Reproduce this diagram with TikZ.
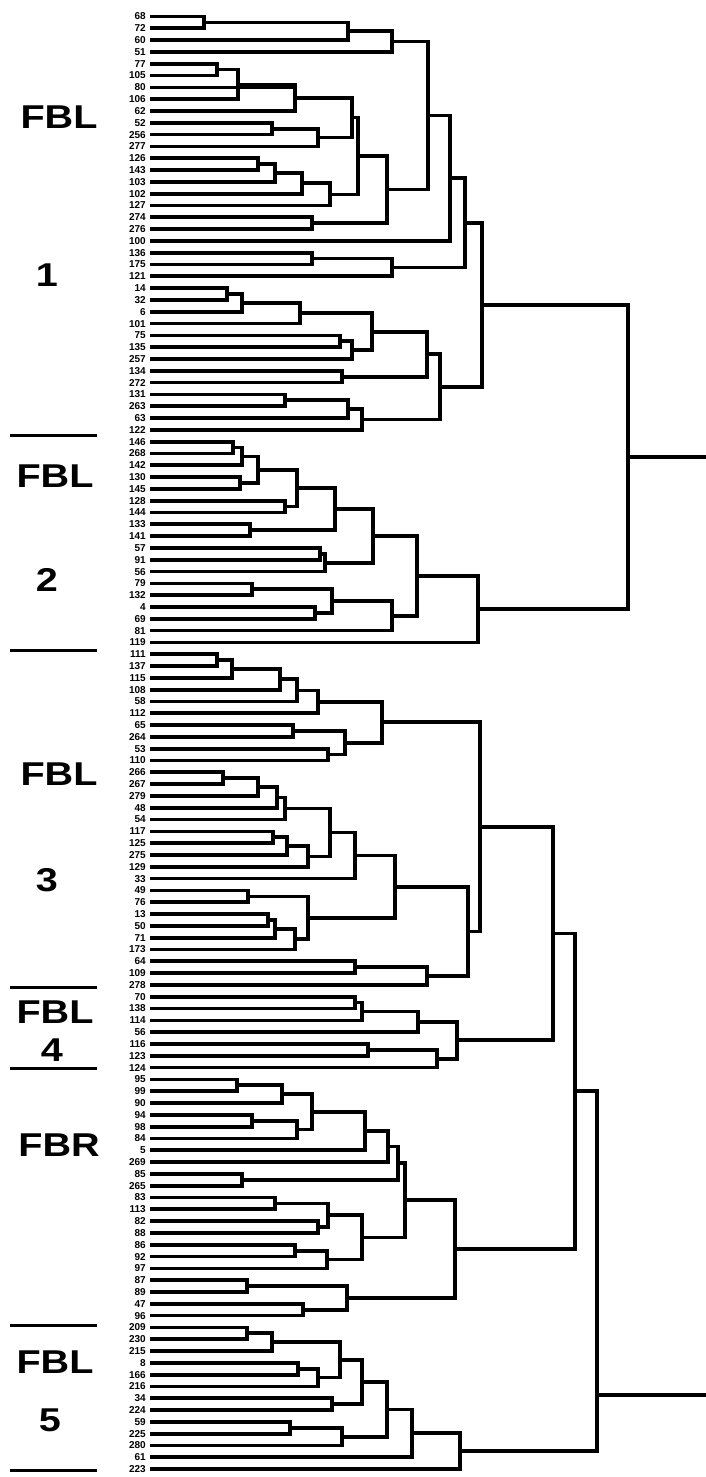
\documentclass[tikz,border=0pt]{standalone}
\usepackage{fontspec}
\setmainfont{Liberation Sans}
\usetikzlibrary{calc}
\begin{document}
\begin{tikzpicture}[x=1pt,y=-1pt,
  br/.style={line width=3.7pt,line join=miter,line cap=butt},
  lab/.style={font=\bfseries\fontsize{10}{10}\selectfont,inner sep=0pt,anchor=east},
  big/.style={font=\bfseries\fontsize{33}{33}\selectfont,inner sep=0pt,xscale=1.2},
  sep/.style={line width=3pt}]
\useasboundingbox (0,0) rectangle (706,1477);
\newcommand\dleaf[2]{%
  \coordinate (L#1) at (150,{16.5+11.81*(#1-1)});
  \node[lab] (T#1) at (146,{16.5+11.81*(#1-1)}) {#2};}
\newcommand\dmerge[4]{%
  \coordinate (#1m) at ($(#3)!0.5!(#4)$);
  \coordinate (#1x) at (#2,0);
  \coordinate (#1) at (#1m -| #1x);
  \draw[br] (#3) -- (#3 -| #1) -- (#4 -| #1) -- (#4);}
\coordinate (edge) at (706,0);
% leaves
\dleaf{1}{68}\dleaf{2}{72}\dleaf{3}{60}\dleaf{4}{51}\dleaf{5}{77}\dleaf{6}{105}
\dleaf{7}{80}\dleaf{8}{106}\dleaf{9}{62}\dleaf{10}{52}\dleaf{11}{256}\dleaf{12}{277}
\dleaf{13}{126}\dleaf{14}{143}\dleaf{15}{103}\dleaf{16}{102}\dleaf{17}{127}\dleaf{18}{274}
\dleaf{19}{276}\dleaf{20}{100}\dleaf{21}{136}\dleaf{22}{175}\dleaf{23}{121}\dleaf{24}{14}
\dleaf{25}{32}\dleaf{26}{6}\dleaf{27}{101}\dleaf{28}{75}\dleaf{29}{135}\dleaf{30}{257}
\dleaf{31}{134}\dleaf{32}{272}\dleaf{33}{131}\dleaf{34}{263}\dleaf{35}{63}\dleaf{36}{122}
\dleaf{37}{146}\dleaf{38}{268}\dleaf{39}{142}\dleaf{40}{130}\dleaf{41}{145}\dleaf{42}{128}
\dleaf{43}{144}\dleaf{44}{133}\dleaf{45}{141}\dleaf{46}{57}\dleaf{47}{91}\dleaf{48}{56}
\dleaf{49}{79}\dleaf{50}{132}\dleaf{51}{4}\dleaf{52}{69}\dleaf{53}{81}\dleaf{54}{119}
\dleaf{55}{111}\dleaf{56}{137}\dleaf{57}{115}\dleaf{58}{108}\dleaf{59}{58}\dleaf{60}{112}
\dleaf{61}{65}\dleaf{62}{264}\dleaf{63}{53}\dleaf{64}{110}\dleaf{65}{266}\dleaf{66}{267}
\dleaf{67}{279}\dleaf{68}{48}\dleaf{69}{54}\dleaf{70}{117}\dleaf{71}{125}\dleaf{72}{275}
\dleaf{73}{129}\dleaf{74}{33}\dleaf{75}{49}\dleaf{76}{76}\dleaf{77}{13}\dleaf{78}{50}
\dleaf{79}{71}\dleaf{80}{173}\dleaf{81}{64}\dleaf{82}{109}\dleaf{83}{278}\dleaf{84}{70}
\dleaf{85}{138}\dleaf{86}{114}\dleaf{87}{56}\dleaf{88}{116}\dleaf{89}{123}\dleaf{90}{124}
\dleaf{91}{95}\dleaf{92}{99}\dleaf{93}{90}\dleaf{94}{94}\dleaf{95}{98}\dleaf{96}{84}
\dleaf{97}{5}\dleaf{98}{269}\dleaf{99}{85}\dleaf{100}{265}\dleaf{101}{83}\dleaf{102}{113}
\dleaf{103}{82}\dleaf{104}{88}\dleaf{105}{86}\dleaf{106}{92}\dleaf{107}{97}\dleaf{108}{87}
\dleaf{109}{89}\dleaf{110}{47}\dleaf{111}{96}\dleaf{112}{209}\dleaf{113}{230}\dleaf{114}{215}
\dleaf{115}{8}\dleaf{116}{166}\dleaf{117}{216}\dleaf{118}{34}\dleaf{119}{224}\dleaf{120}{59}
\dleaf{121}{225}\dleaf{122}{280}\dleaf{123}{61}\dleaf{124}{223}
% FBL 1
\dmerge{a1}{204}{L1}{L2}
\dmerge{a2}{347.7}{a1}{L3}
\dmerge{a3}{391.7}{a2}{L4}
\dmerge{b1}{216.7}{L5}{L6}
\dmerge{b2}{238}{b1}{L8}
\dmerge{b3}{295}{b2}{L9}
\draw[br] (L7) -- (L7 -| b3);
\dmerge{b4}{271.7}{L10}{L11}
\dmerge{b5}{318.3}{b4}{L12}
\dmerge{b6}{351.7}{b3}{b5}
\dmerge{b7}{258.3}{L13}{L14}
\dmerge{b8}{275}{b7}{L15}
\dmerge{b9}{301.7}{b8}{L16}
\dmerge{b10}{330}{b9}{L17}
\dmerge{b11}{358.3}{b6}{b10}
\dmerge{b12}{311.7}{L18}{L19}
\dmerge{b13}{386.7}{b11}{b12}
\dmerge{a4}{428.3}{a3}{b13}
\dmerge{a5}{450}{a4}{L20}
\dmerge{c1}{311.7}{L21}{L22}
\dmerge{c2}{391.7}{c1}{L23}
\dmerge{a6}{465}{a5}{c2}
\dmerge{d1}{226.7}{L24}{L25}
\dmerge{d2}{241.7}{d1}{L26}
\dmerge{d3}{300}{d2}{L27}
\dmerge{d4}{340}{L28}{L29}
\dmerge{d5}{351.7}{d4}{L30}
\dmerge{d6}{371.7}{d3}{d5}
\dmerge{d7}{341.7}{L31}{L32}
\dmerge{d8}{426.7}{d6}{d7}
\dmerge{d9}{285}{L33}{L34}
\dmerge{d10}{348.3}{d9}{L35}
\dmerge{d11}{361.7}{d10}{L36}
\dmerge{d12}{440}{d8}{d11}
\dmerge{a7}{481.7}{a6}{d12}
% FBL 2
\dmerge{e1}{233.3}{L37}{L38}
\dmerge{e2}{241.7}{e1}{L39}
\dmerge{e3}{240}{L40}{L41}
\dmerge{e4}{258.3}{e2}{e3}
\dmerge{e5}{285}{L42}{L43}
\dmerge{e6}{296.7}{e4}{e5}
\dmerge{e7}{250}{L44}{L45}
\dmerge{e8}{335}{e6}{e7}
\dmerge{e9}{320}{L46}{L47}
\dmerge{e10}{325}{e9}{L48}
\dmerge{e11}{373.3}{e8}{e10}
\dmerge{e12}{251.7}{L49}{L50}
\dmerge{e13}{315}{L51}{L52}
\dmerge{e14}{331.7}{e12}{e13}
\dmerge{e15}{391.7}{e14}{L53}
\dmerge{e16}{416.7}{e11}{e15}
\dmerge{e17}{478.3}{e16}{L54}
\dmerge{r1}{628}{a7}{e17}
\coordinate (r1e) at (r1 -| edge);
\draw[br] (r1) -- (r1e);
% FBL 3
\dmerge{f1}{216.7}{L55}{L56}
\dmerge{f2}{231.7}{f1}{L57}
\dmerge{f3}{280}{f2}{L58}
\dmerge{f4}{296.7}{f3}{L59}
\dmerge{f5}{318.3}{f4}{L60}
\dmerge{f6}{293.3}{L61}{L62}
\dmerge{f7}{328.3}{L63}{L64}
\dmerge{f8}{345}{f6}{f7}
\dmerge{f9}{381.7}{f5}{f8}
\dmerge{g1}{223.3}{L65}{L66}
\dmerge{g2}{258.3}{g1}{L67}
\dmerge{g3}{276.7}{g2}{L68}
\dmerge{g4}{285}{g3}{L69}
\dmerge{g5}{273.3}{L70}{L71}
\dmerge{g6}{286.7}{g5}{L72}
\dmerge{g7}{308.3}{g6}{L73}
\dmerge{g8}{330}{g4}{g7}
\dmerge{g9}{355}{g8}{L74}
\dmerge{g10}{248.3}{L75}{L76}
\dmerge{g11}{268.3}{L77}{L78}
\dmerge{g12}{275}{g11}{L79}
\dmerge{g13}{295}{g12}{L80}
\dmerge{g14}{308.3}{g10}{g13}
\dmerge{g15}{395}{g9}{g14}
\dmerge{g16}{355}{L81}{L82}
\dmerge{g17}{426.7}{g16}{L83}
\dmerge{g18}{468.3}{g15}{g17}
\dmerge{g19}{480}{f9}{g18}
% FBL 4
\dmerge{h1}{355}{L84}{L85}
\dmerge{h2}{361.7}{h1}{L86}
\dmerge{h3}{418.3}{h2}{L87}
\dmerge{h4}{368.3}{L88}{L89}
\dmerge{h5}{436.7}{h4}{L90}
\dmerge{h6}{456.7}{h3}{h5}
% FBR
\dmerge{k1}{236.7}{L91}{L92}
\dmerge{k2}{281.7}{k1}{L93}
\dmerge{k3}{251.7}{L94}{L95}
\dmerge{k4}{296.7}{k3}{L96}
\dmerge{k5}{311.7}{k2}{k4}
\dmerge{k6}{365}{k5}{L97}
\dmerge{k7}{388.3}{k6}{L98}
\dmerge{k8}{241.7}{L99}{L100}
\dmerge{k9}{398.3}{k7}{k8}
\dmerge{k10}{275}{L101}{L102}
\dmerge{k11}{318.3}{L103}{L104}
\dmerge{k12}{328.3}{k10}{k11}
\dmerge{k13}{295}{L105}{L106}
\dmerge{k14}{326.7}{k13}{L107}
\dmerge{k15}{361.7}{k12}{k14}
\dmerge{k16}{405}{k9}{k15}
\dmerge{k17}{246.7}{L108}{L109}
\dmerge{k18}{303.3}{L110}{L111}
\dmerge{k19}{346.7}{k17}{k18}
\dmerge{k20}{455}{k16}{k19}
% FBL 5
\dmerge{m1}{246.7}{L112}{L113}
\dmerge{m2}{271.7}{m1}{L114}
\dmerge{m3}{298.3}{L115}{L116}
\dmerge{m4}{318.3}{m3}{L117}
\dmerge{m5}{340}{m2}{m4}
\dmerge{m6}{331.7}{L118}{L119}
\dmerge{m7}{361.7}{m5}{m6}
\dmerge{m8}{290}{L120}{L121}
\dmerge{m9}{341.7}{m8}{L122}
\dmerge{m10}{386.7}{m7}{m9}
\dmerge{m11}{411.7}{m10}{L123}
\dmerge{m12}{460}{m11}{L124}
% upper joins
\dmerge{p1}{553}{g19}{h6}
\dmerge{p2}{575}{p1}{k20}
\coordinate (p3) at (597,1395);
\draw[br] (p2) -- (p2 -| p3) -- (m12 -| p3) -- (m12);
\coordinate (p3e) at (p3 -| edge);
\draw[br] (p3) -- (p3e);
% group labels
\node[big] (G1a) at (59,117) {FBL};
\node[big] (G1b) at (47,275) {1};
\node[big] (G2a) at (55,476) {FBL};
\node[big] (G2b) at (47,580) {2};
\node[big] (G3a) at (59,774) {FBL};
\node[big] (G3b) at (47,880) {3};
\node[big] (G4a) at (55,1012) {FBL};
\node[big] (G4b) at (52,1050) {4};
\node[big] (G5a) at (59,1145) {FBR};
\node[big] (G6a) at (55,1362) {FBL};
\node[big] (G6b) at (50,1420) {5};
\draw[sep] (10,435) -- (97,435);
\draw[sep] (10,650) -- (97,650);
\draw[sep] (10,987) -- (97,987);
\draw[sep] (10,1068) -- (97,1068);
\draw[sep] (10,1325) -- (97,1325);
\draw[sep] (10,1470) -- (97,1470);
\end{tikzpicture}
\end{document}
